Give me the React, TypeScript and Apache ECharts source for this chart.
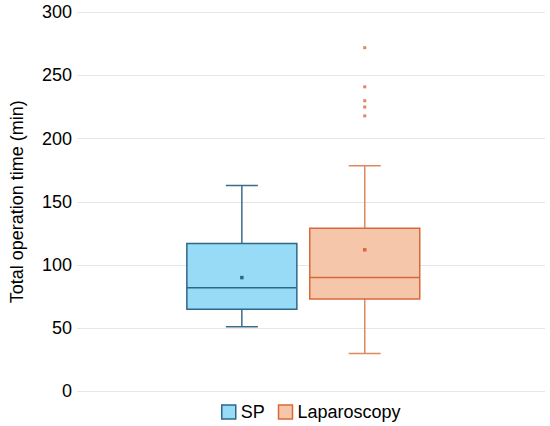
import React, { useEffect, useRef } from "react";
import * as echarts from "echarts";

// ---- data ----
const categories = ["SP", "Laparoscopy"];
// [min, Q1, median, Q3, max]
const spBox = [51, 65, 82, 117, 163];
const lapBox = [30, 73, 90, 129, 178.5];
const spMean = 90;
const lapMean = 112;
const lapOutliers = [218, 225, 230, 241, 272];
const yTicks = { min: 0, max: 300, interval: 50 };

const FONT = 'Arial, "Liberation Sans", sans-serif';

const styles = {
  SP: { fill: "#97DBF7", border: "#2F6788", whisker: "#3D6C89" },
  Laparoscopy: { fill: "#F6C6AB", border: "#D8693A", whisker: "#E0895F" },
};

function makeRender(st: { fill: string; border: string; whisker: string }) {
  return (params: any, api: any) => {
    const xi = api.value(0);
    const pMin = api.coord([xi, api.value(1)]);
    const pQ1 = api.coord([xi, api.value(2)]);
    const pMed = api.coord([xi, api.value(3)]);
    const pQ3 = api.coord([xi, api.value(4)]);
    const pMax = api.coord([xi, api.value(5)]);
    const pMean = api.coord([xi, api.value(6)]);
    const band = api.size([1, 0])[0];
    const cx = pMed[0];
    const halfW = (band * 0.895) / 2;
    const capHalf = 16;
    const lw = 1.5;
    return {
      type: "group",
      children: [
        {
          type: "line",
          shape: { x1: cx, y1: pQ3[1], x2: cx, y2: pMax[1] },
          style: { stroke: st.whisker, lineWidth: lw },
        },
        {
          type: "line",
          shape: { x1: cx - capHalf, y1: pMax[1], x2: cx + capHalf, y2: pMax[1] },
          style: { stroke: st.whisker, lineWidth: lw },
        },
        {
          type: "line",
          shape: { x1: cx, y1: pQ1[1], x2: cx, y2: pMin[1] },
          style: { stroke: st.whisker, lineWidth: lw },
        },
        {
          type: "line",
          shape: { x1: cx - capHalf, y1: pMin[1], x2: cx + capHalf, y2: pMin[1] },
          style: { stroke: st.whisker, lineWidth: lw },
        },
        {
          type: "rect",
          shape: { x: cx - halfW, y: pQ3[1], width: halfW * 2, height: pQ1[1] - pQ3[1] },
          style: { fill: st.fill, stroke: st.border, lineWidth: lw },
        },
        {
          type: "line",
          shape: { x1: cx - halfW, y1: pMed[1], x2: cx + halfW, y2: pMed[1] },
          style: { stroke: st.border, lineWidth: lw },
        },
        {
          type: "rect",
          shape: { x: cx - 1.75, y: pMean[1] - 1.75, width: 3.5, height: 3.5 },
          style: { fill: st.border },
        },
      ],
    };
  };
}

export default function App() {
  const ref = useRef<HTMLDivElement>(null);
  useEffect(() => {
    if (!ref.current) return;
    const chart = echarts.init(ref.current, undefined, { renderer: "svg" });
    const gridPos = { top: 12.3, bottom: 34.7 };
    chart.setOption({
      animation: false,
      backgroundColor: "#fff",
      textStyle: { fontFamily: FONT },
      grid: [
        { left: 69, right: 5, ...gridPos },
        { left: 180.4, right: 123.8, ...gridPos },
      ],
      xAxis: [
        { type: "category", gridIndex: 0, data: [""], show: false },
        { type: "category", gridIndex: 1, data: categories, show: false },
      ],
      yAxis: [
        {
          type: "value",
          gridIndex: 0,
          min: yTicks.min,
          max: yTicks.max,
          interval: yTicks.interval,
          name: "Total operation time (min)",
          nameLocation: "middle",
          nameGap: 51,
          nameTextStyle: { fontSize: 18, color: "#000", fontFamily: FONT },
          axisLine: { show: false },
          axisTick: { show: false },
          axisLabel: { fontSize: 18, color: "#000", margin: 5, fontFamily: FONT },
          splitLine: { lineStyle: { color: "#E6E6E6", width: 1.2 } },
        },
        {
          type: "value",
          gridIndex: 1,
          min: yTicks.min,
          max: yTicks.max,
          interval: yTicks.interval,
          show: false,
          splitLine: { show: false },
        },
      ],
      legend: {
        left: 216,
        top: 398,
        itemWidth: 14,
        itemHeight: 14,
        itemGap: 13,
        textStyle: { fontSize: 18, color: "#000", fontFamily: FONT },
        data: [
          {
            name: "SP",
            icon: "rect",
            itemStyle: { color: styles.SP.fill, borderColor: styles.SP.border, borderWidth: 1.5 },
          },
          {
            name: "Laparoscopy",
            icon: "rect",
            itemStyle: {
              color: styles.Laparoscopy.fill,
              borderColor: styles.Laparoscopy.border,
              borderWidth: 1.5,
            },
          },
        ],
      },
      series: [
        {
          name: "SP",
          type: "custom",
          xAxisIndex: 1,
          yAxisIndex: 1,
          itemStyle: { color: styles.SP.fill, borderColor: styles.SP.border, borderWidth: 1.5 },
          renderItem: makeRender(styles.SP),
          encode: { x: 0, y: [1, 2, 3, 4, 5, 6] },
          data: [[0, ...spBox, spMean]],
        },
        {
          name: "Laparoscopy",
          type: "custom",
          xAxisIndex: 1,
          yAxisIndex: 1,
          itemStyle: {
            color: styles.Laparoscopy.fill,
            borderColor: styles.Laparoscopy.border,
            borderWidth: 1.5,
          },
          renderItem: makeRender(styles.Laparoscopy),
          encode: { x: 0, y: [1, 2, 3, 4, 5, 6] },
          data: [[1, ...lapBox, lapMean]],
        },
        {
          name: "Outliers",
          type: "scatter",
          xAxisIndex: 1,
          yAxisIndex: 1,
          symbol: "rect",
          symbolSize: 3,
          itemStyle: { color: styles.Laparoscopy.border },
          data: lapOutliers.map((v) => [1, v]),
        },
      ],
    });
    return () => chart.dispose();
  }, []);
  return (
    <div
      ref={ref}
      style={{ position: "absolute", left: 0, top: 0, width: 550, height: 426 }}
    />
  );
}
